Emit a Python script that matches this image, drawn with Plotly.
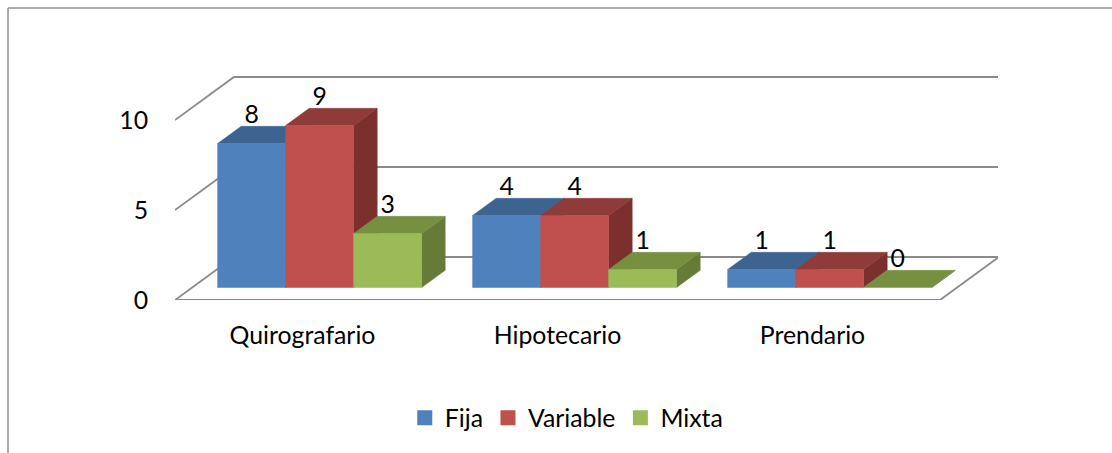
import plotly.graph_objects as go

# Chart data
categories = ["Quirografario", "Hipotecario", "Prendario"]
fija = [8, 4, 1]
variable = [9, 4, 1]
mixta = [3, 1, 0]
y_ticks = [0, 5, 10]

series = [
    ("Fija", fija, "#4F81BD", "#3D6491", "#375A82"),
    ("Variable", variable, "#C0504D", "#8F3B39", "#7B302E"),
    ("Mixta", mixta, "#9BBB59", "#769040", "#667B38"),
]

FONT = "Lato, Carlito, Calibri, sans-serif"
FONT_SIZE = 24.8
TEXT = "#000000"
GRID = "#8A8A8A"

# Canvas geometry (pixels) of the oblique box the chart sits in
W, H = 1112, 453
LEFT, RIGHT, TOP, BOTTOM = 175, 998, 75, 300
CAT_PX = 255
UNIT_PX = 18
DEPTH_X = 59 / CAT_PX      # full box depth along x, in category units
DEPTH_Y = 43 / UNIT_PX     # full box depth along y, in value units

BAR_W = 0.8 / 3
GAP = 0.1
BAR_NEAR = 0.29            # bar front, as a share of the box depth
BAR_FAR = 0.69             # bar back


def project(x, value, depth):
    """Oblique projection of a (category, value, depth) point to the plot plane."""
    return x + depth * DEPTH_X, value + depth * DEPTH_Y


def polygon(points, color):
    pts = [project(*p) for p in points]
    pts.append(pts[0])
    return go.Scatter(
        x=[p[0] for p in pts], y=[p[1] for p in pts], mode="lines",
        fill="toself", fillcolor=color, line=dict(color=color, width=0.5),
        showlegend=False, hoverinfo="skip", cliponaxis=False,
    )


def wire(points):
    pts = [project(*p) for p in points]
    return go.Scatter(
        x=[p[0] for p in pts], y=[p[1] for p in pts], mode="lines",
        line=dict(color=GRID, width=1.8), showlegend=False,
        hoverinfo="skip", cliponaxis=False,
    )


fig = go.Figure()
n_cat = len(categories)

# Wall gridlines and floor outline
for tick in y_ticks:
    fig.add_trace(wire([(0, tick, 0), (0, tick, 1), (n_cat, tick, 1)]))
fig.add_trace(wire([(0, 0, 0), (n_cat, 0, 0), (n_cat, 0, 1)]))

# Bars, painted left to right so each one overlaps its left neighbour
for c in range(n_cat):
    for s, (name, values, front, top, side) in enumerate(series):
        v = values[c]
        x0 = c + GAP + s * BAR_W
        x1 = x0 + BAR_W
        n, f = BAR_NEAR, BAR_FAR
        fig.add_trace(polygon([(x1, 0, n), (x1, 0, f), (x1, v, f), (x1, v, n)], side))
        fig.add_trace(polygon([(x0, v, n), (x1, v, n), (x1, v, f), (x0, v, f)], top))
        fig.add_trace(polygon([(x0, 0, n), (x1, 0, n), (x1, v, n), (x0, v, n)], front))

# Value labels above each bar
for s, (name, values, *_rest) in enumerate(series):
    xs, ys = [], []
    for c, v in enumerate(values):
        px, py = project(c + GAP + (s + 0.5) * BAR_W, v, BAR_NEAR)
        xs.append(px)
        ys.append(py + 1.5)
    fig.add_trace(go.Scatter(
        x=xs, y=ys, mode="text", text=[str(v) for v in values],
        textposition="middle center",
        textfont=dict(family=FONT, size=FONT_SIZE, color=TEXT),
        showlegend=False, hoverinfo="skip", cliponaxis=False,
    ))

# Legend entries
for name, values, front, *_rest in series:
    fig.add_trace(go.Scatter(
        x=[None], y=[None], mode="markers", name=name,
        marker=dict(symbol="square", size=15, color=front),
    ))

plot_w = RIGHT - LEFT
plot_h = BOTTOM - TOP
to_paper_x = lambda px: (px - LEFT) / plot_w
to_paper_y = lambda py: (BOTTOM - py) / plot_h
frame = dict(color="#909090", width=1.5)

fig.update_layout(
    width=W, height=H, autosize=False,
    margin=dict(l=LEFT, r=W - RIGHT, t=TOP, b=H - BOTTOM, pad=0),
    paper_bgcolor="white", plot_bgcolor="rgba(0,0,0,0)",
    font=dict(family=FONT, size=FONT_SIZE, color=TEXT),
    xaxis=dict(
        range=[0, plot_w / CAT_PX], showgrid=False, zeroline=False, showline=False,
        tickmode="array", tickvals=[i + 0.5 for i in range(n_cat)], ticktext=categories,
        ticks="outside", ticklen=13, tickcolor="rgba(0,0,0,0)",
        tickfont=dict(family=FONT, size=FONT_SIZE, color=TEXT),
    ),
    yaxis=dict(
        range=[0, plot_h / UNIT_PX], showgrid=False, zeroline=False, showline=False,
        tickmode="array", tickvals=y_ticks, ticks="outside", ticklen=21,
        tickcolor="rgba(0,0,0,0)",
        tickfont=dict(family=FONT, size=FONT_SIZE, color=TEXT),
    ),
    legend=dict(
        orientation="h", xref="container", yref="container",
        x=0.364, xanchor="left", y=0.128, yanchor="top",
        font=dict(family=FONT, size=FONT_SIZE, color=TEXT),
        bgcolor="rgba(0,0,0,0)",
    ),
    shapes=[
        dict(type="line", xref="paper", yref="paper", x0=to_paper_x(8), x1=to_paper_x(W),
             y0=to_paper_y(8), y1=to_paper_y(8), line=frame),
        dict(type="line", xref="paper", yref="paper", x0=to_paper_x(8), x1=to_paper_x(8),
             y0=to_paper_y(8), y1=to_paper_y(H), line=frame),
    ],
)

fig.write_html("out.html", config=dict(displayModeBar=False))
